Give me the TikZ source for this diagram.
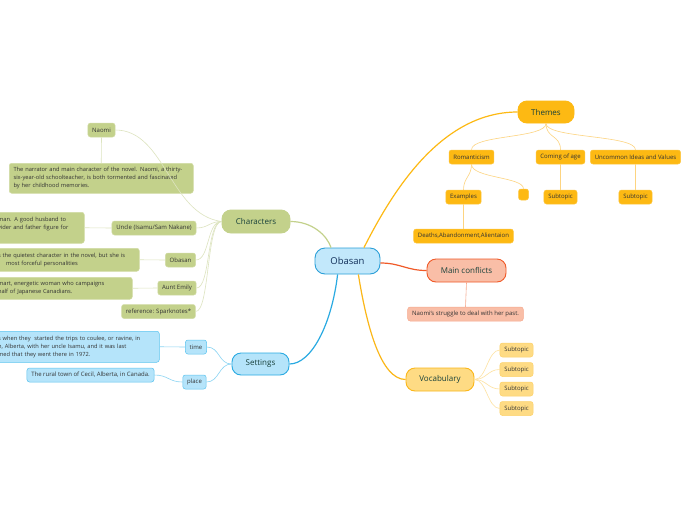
\documentclass[tikz,border=0pt]{standalone}
\usepackage{fontspec}
\setmainfont{Open Sans}
\usetikzlibrary{calc}
\definecolor{obfill}{HTML}{C2E8FB}
\definecolor{obline}{HTML}{2A9FD8}
\definecolor{obtext}{HTML}{12305A}
\definecolor{chfill}{HTML}{C3D18B}
\definecolor{chleafline}{HTML}{D2DCA6}
\definecolor{chconn}{HTML}{DDE4C0}
\definecolor{sefill}{HTML}{B5E4FA}
\definecolor{seline}{HTML}{2AAAE2}
\definecolor{seleafline}{HTML}{5CC4EF}
\definecolor{seconn}{HTML}{8AD4F3}
\definecolor{thfill}{HTML}{FDB913}
\definecolor{thleafline}{HTML}{FDC640}
\definecolor{thconn}{HTML}{FDD480}
\definecolor{mcfill}{HTML}{F9BEA7}
\definecolor{mcline}{HTML}{F05A28}
\definecolor{mcleafline}{HTML}{F6A98E}
\definecolor{vofill}{HTML}{FEDB84}
\definecolor{voline}{HTML}{FBB719}
\definecolor{voleafline}{HTML}{FDD26C}
\definecolor{voconn}{HTML}{FEE2A0}
\definecolor{toptext}{HTML}{17403A}
\definecolor{leaftext}{HTML}{333333}
\begin{document}
\begin{tikzpicture}[x=1pt,y=-1pt,
  topic/.style={rounded corners=9pt, line width=0.9pt, inner sep=0pt, minimum height=23pt, font=\fontsize{8}{10}\selectfont, text=toptext},
  leaf/.style={rounded corners=2.5pt, line width=0.5pt, inner xsep=4.3pt, inner ysep=0pt, minimum height=14pt, font=\fontsize{6}{7.2}\selectfont, text=leaftext},
  desc/.style={leaf, align=left, inner ysep=2pt, font=\fontsize{5.7}{8.2}\selectfont},
  chleaf/.style={leaf, fill=chfill, draw=chleafline},
  chdesc/.style={desc, fill=chfill, draw=chleafline},
  seleaf/.style={leaf, fill=sefill, draw=seleafline},
  sedesc/.style={desc, fill=sefill, draw=seleafline},
  thleaf/.style={leaf, fill=thfill, draw=thleafline},
  mcleaf/.style={leaf, fill=mcfill, draw=mcleafline},
  voleaf/.style={leaf, fill=vofill, draw=voleafline},
  mainconn/.style={line width=1.2pt},
  subconn/.style={line width=0.6pt}
]
\useasboundingbox (0,0) rectangle (696,520);
\fill[white] (0,0) rectangle (696,520);
\clip (0,0) rectangle (696,520);

% ---------- main topics ----------
\node[topic, fill=obfill, draw=obline, text=obtext, minimum width=65pt, minimum height=26pt, rounded corners=10pt, font=\fontsize{9.5}{11}\selectfont] (obasan) at (347.5,261) {Obasan};
\node[topic, fill=chfill, draw=chfill, minimum width=68pt] (characters) at (256,221.5) {Characters};
\node[topic, fill=sefill, draw=seline, minimum width=57pt, minimum height=22pt] (settings) at (260.5,364) {Settings};
\node[topic, fill=thfill, draw=thfill, minimum width=56pt, minimum height=22pt] (themes) at (546,112) {Themes};
\node[topic, fill=mcfill, draw=mcline, minimum width=79pt] (conflicts) at (466.5,270.5) {Main conflicts};
\node[topic, fill=vofill, draw=voline, minimum width=68pt] (vocab) at (440,379.5) {Vocabulary};

% ---------- themes ----------
\node[thleaf] (rom) at (471.5,157) {Romanticism};
\node[thleaf] (coming) at (560.5,157) {Coming of age};
\node[thleaf] (uncommon) at (635.5,157) {Uncommon Ideas and Values};
\node[thleaf] (examples) at (463.5,197) {Examples};
\node[thleaf, minimum width=10pt, minimum height=11pt, inner sep=0pt] (emptybox) at (523.5,194.5) {};
\node[thleaf] (comsub) at (560.5,197) {Subtopic};
\node[thleaf] (uncsub) at (635.5,197) {Subtopic};
\node[thleaf] (deaths) at (463.5,236) {Deaths,Abandonment,Alientaion};

% ---------- main conflicts ----------
\node[mcleaf] (struggle) at (465.5,314) {Naomi`s struggle to deal with her past.};

% ---------- vocabulary ----------
\node[voleaf] (v1) at (516.5,350) {Subtopic};
\node[voleaf] (v2) at (516.5,369.5) {Subtopic};
\node[voleaf] (v3) at (516.5,389) {Subtopic};
\node[voleaf] (v4) at (516.5,408.5) {Subtopic};

% ---------- characters ----------
\node[chleaf] (naomi) at (101.5,130) {Naomi};
\node[chdesc, text width=175.4pt, minimum height=30pt, anchor=north west] (ndesc) at (9,163) {The narrator and main character of the novel. Naomi, a thirty-\\six-year-old schoolteacher, is both tormented and fascinated\\by her childhood memories.};
\node[chleaf] (uncle) at (154,228) {Uncle (Isamu/Sam Nakane)};
\node[chdesc, text width=81.9pt, minimum height=31pt, anchor=north west] (udesc) at (-6.5,212) {man. A good husband to\\vider and father figure for\\\mbox{}};
\node[chleaf] (obc) at (180.5,260) {Obasan};
\node[chdesc, text width=136.9pt, minimum height=23pt, anchor=north west] (odesc) at (-6.5,248) {s the quietest character in the novel, but she is\\\hspace*{8pt}most forceful personalities};
\node[chleaf] (emily) at (177,288) {Aunt Emily};
\node[chdesc, text width=129.9pt, minimum height=22pt, anchor=north west] (edesc) at (-6.5,277) {mart, energetic woman who campaigns\\half of Japanese Canadians.};
\node[chleaf] (ref) at (158.5,311.5) {reference: Sparknotes*};

% ---------- settings ----------
\node[seleaf] (time) at (196,347) {time};
\node[sedesc, text width=156.9pt, minimum height=31pt, anchor=north west] (tdesc) at (-6.5,331) {s when they~ started the trips to coulee, or ravine, in\\n, Alberta, with her uncle Isamu, and it was last\\med that they went there in 1972.};
\node[seleaf] (place) at (194.5,382) {place};
\node[seleaf] (pdesc) at (90.5,375) {The rural town of Cecil, Alberta, in Canada.};

% ---------- main connectors ----------
\draw[mainconn, draw=thfill] ($(obasan.north)!0.5!(obasan.north east)$) .. controls +(27,-53) and +(-78,0) .. (themes.west);
\draw[mainconn, draw=mcline] ($(obasan.east)+(0,2)$) .. controls +(20,0) and +(-20,0) .. (conflicts.west);
\draw[mainconn, draw=voline] ($(obasan.south)!0.33!(obasan.south east)$) .. controls +(8,50) and +(-25,0) .. (vocab.west);
\draw[mainconn, draw=seline] ($(obasan.south)!0.3!(obasan.south west)$) .. controls +(-6,50) and +(22,0) .. (settings.east);
\draw[mainconn, draw=chfill] (characters.east) .. controls +(22,0) and +(-4,-12) .. ($(obasan.north)!0.5!(obasan.north west)$);

% ---------- themes connectors ----------
\draw[subconn, draw=thconn] (themes.south) .. controls +(0,15) and +(0,-15) .. (rom.north);
\draw[subconn, draw=thconn] (themes.south) .. controls +(0,15) and +(0,-15) .. (coming.north);
\draw[subconn, draw=thconn] (themes.south) .. controls +(0,15) and +(0,-15) .. (uncommon.north);
\draw[subconn, draw=thconn] (rom.south) .. controls +(0,12) and +(0,-12) .. (examples.north);
\draw[subconn, draw=thconn] (rom.south) .. controls +(0,14) and +(0,-12) .. (emptybox.north);
\draw[subconn, draw=thconn] (examples.south) -- (deaths.north);
\draw[subconn, draw=thconn] (coming.south) -- (comsub.north);
\draw[subconn, draw=thconn] (uncommon.south) -- (uncsub.north);

% ---------- conflicts connector ----------
\draw[subconn, draw=mcleafline] (conflicts.south) -- (struggle.north);

% ---------- vocabulary connectors ----------
\foreach \v in {v1,v2,v3,v4}
  \draw[subconn, draw=voconn] (vocab.east) .. controls +(12,0) and +(-12,0) .. (\v.west);

% ---------- characters connectors ----------
\draw[subconn, draw=chconn] (characters.west) .. controls +(-52,-7) and +(50,0) .. (naomi.east);
\draw[subconn, draw=chconn] (characters.west) .. controls +(-12,0) and +(12,0) .. (uncle.east);
\draw[subconn, draw=chconn] (characters.west) .. controls +(-15,0) and +(14,0) .. (obc.east);
\draw[subconn, draw=chconn] (characters.west) .. controls +(-15,0) and +(14,0) .. (emily.east);
\draw[subconn, draw=chconn] (characters.west) .. controls +(-15,0) and +(14,0) .. (ref.east);
\draw[subconn, draw=chconn] (naomi.south) -- (ndesc.north);
\draw[subconn, draw=chconn] (uncle.west) -- (udesc.east);
\draw[subconn, draw=chconn] (obc.west) -- (odesc.east);
\draw[subconn, draw=chconn] (emily.west) -- (edesc.east);

% ---------- settings connectors ----------
\draw[subconn, draw=seconn] (settings.west) .. controls +(-13,0) and +(13,0) .. (time.east);
\draw[subconn, draw=seconn] (settings.west) .. controls +(-13,0) and +(13,0) .. (place.east);
\draw[subconn, draw=seconn] (time.west) -- (tdesc.east);
\draw[subconn, draw=seconn] (place.west) .. controls +(-14,0) and +(14,0) .. (pdesc.east);
\end{tikzpicture}
\end{document}
